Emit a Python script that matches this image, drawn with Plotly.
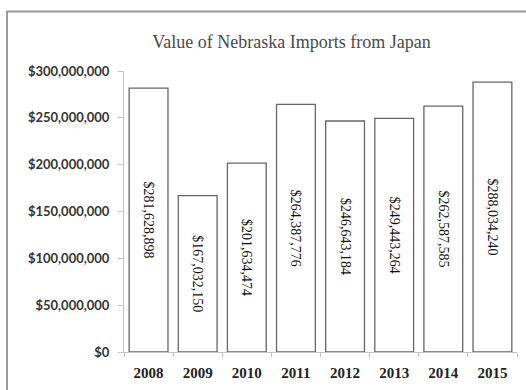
import plotly.graph_objects as go

# Annual import values (USD)
years = ["2008", "2009", "2010", "2011", "2012", "2013", "2014", "2015"]
imports_usd = [281628898, 167032150, 201634474, 264387776,
               246643184, 249443264, 262587585, 288034240]

# Y axis ticks
y_tickvals = [0, 50000000, 100000000, 150000000, 200000000, 250000000, 300000000]
y_ticktext = ["$0", "$50,000,000", "$100,000,000", "$150,000,000",
              "$200,000,000", "$250,000,000", "$300,000,000"]

W, H = 526, 390
L, R, T, B = 124, 9, 71, 31
plot_w = W - L - R
plot_h = H - T - B

serif = "Liberation Serif, Times New Roman, serif"
sans = "Lato, Open Sans, sans-serif"

fig = go.Figure(
    go.Bar(
        x=years,
        y=imports_usd,
        marker=dict(color="white", line=dict(color="#666666", width=1.3)),
        texttemplate="$%{y:,.0f}",
        textposition="inside",
        insidetextanchor="middle",
        textangle=90,
        textfont=dict(family=serif, size=14, color="#111111"),
        hoverinfo="skip",
    )
)

# Outer frame (top and left edges visible)
fig.add_shape(
    type="rect", xref="paper", yref="paper",
    x0=(7 - L) / plot_w, x1=1.2,
    y0=-0.3, y1=(H - B - 10) / plot_h,
    line=dict(color="#9a9a9a", width=2),
    fillcolor="rgba(0,0,0,0)",
    layer="below",
)

fig.update_layout(
    width=W, height=H,
    margin=dict(l=L, r=R, t=T, b=B),
    paper_bgcolor="white",
    plot_bgcolor="white",
    bargap=0.21,
    showlegend=False,
    title=dict(
        text="Value of Nebraska Imports from Japan",
        x=291.5 / W, xanchor="center", xref="container",
        y=1 - 42 / H, yanchor="middle", yref="container",
        font=dict(family=serif, size=18, color="#4a4a4a"),
    ),
    xaxis=dict(
        showline=True, linecolor="#c4c4c4", linewidth=1,
        ticks="outside", tickson="boundaries", ticklen=4,
        tickcolor="#c4c4c4",
        tickfont=dict(family=serif, size=15, color="#222222", weight="bold"),
        ticklabelstandoff=7,
        showgrid=False, zeroline=False, fixedrange=True,
    ),
    yaxis=dict(
        range=[0, 300000000],
        tickvals=y_tickvals, ticktext=y_ticktext,
        showline=True, linecolor="#c4c4c4", linewidth=1,
        ticks="outside", ticklen=5, tickcolor="#c4c4c4",
        tickfont=dict(family=sans, size=13, color="#333333", weight="bold"),
        ticklabelstandoff=6,
        showgrid=False, zeroline=False, fixedrange=True,
    ),
)

fig.write_html("out.html")
